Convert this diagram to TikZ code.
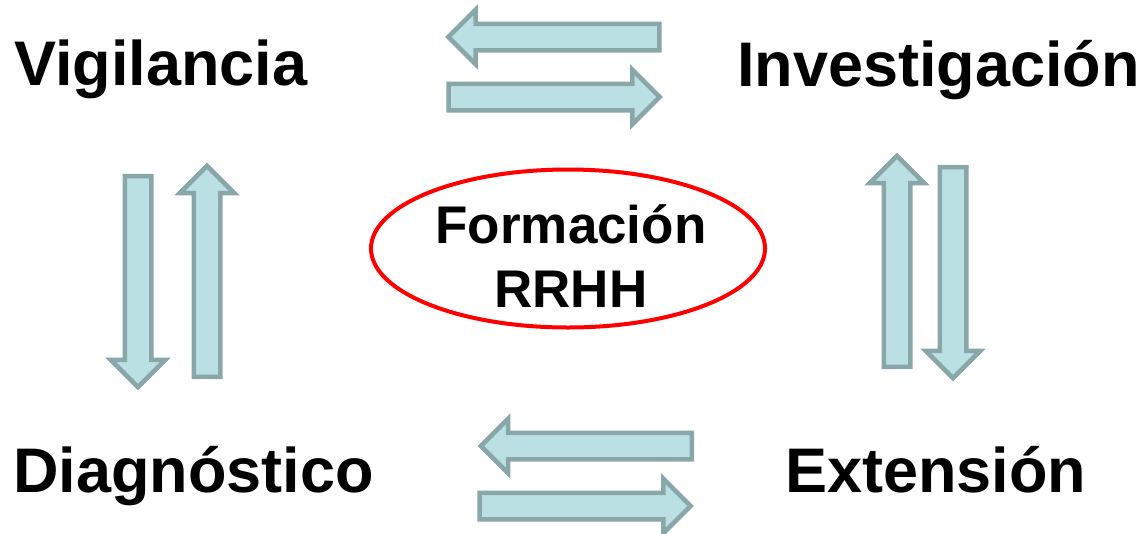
\documentclass[tikz,border=0pt]{standalone}
\usepackage{fontspec}
\setmainfont{Liberation Sans}
\usetikzlibrary{shapes.arrows,shapes.geometric}
\definecolor{arrfill}{RGB}{187,224,227}
\definecolor{arredge}{RGB}{137,166,168}
\tikzset{
  blockarrow/.style={single arrow, draw=arredge, fill=arrfill, line width=4.5pt,
    minimum height=211pt, single arrow head extend=14pt,
    inner xsep=0pt, inner ysep=11pt, outer sep=0pt, anchor=center},
  lbl/.style={font=\fontsize{63}{63}\selectfont\bfseries, inner sep=0pt, anchor=base west},
}
\begin{document}
\begin{tikzpicture}[x=1pt,y=-1pt]
\useasboundingbox (0,0) rectangle (1147,533);
\node[lbl] (vig) at (14,85) {Vigilancia};
\node[lbl] (inv) at (737,86) {Investigación};
\node[lbl] (dia) at (13,492) {Diagnóstico};
\node[lbl] (ext) at (785,492) {Extensión};
\node[ellipse, draw=red, line width=4pt, minimum width=394pt, minimum height=158pt, inner sep=0pt] (rrhhel) at (568,248.5) {};
\node[font=\fontsize{53}{64}\selectfont\bfseries, align=center, inner sep=0pt, anchor=base] (rrhh) at (571,307) {Formación\\RRHH};
\node[blockarrow, rotate=180] (a1) at (560.5,37) {};
\node[blockarrow] (a2) at (547.5,97) {};
\node[blockarrow, rotate=-90] (a3) at (138,275) {};
\node[blockarrow, rotate=90] (a4) at (207,278) {};
\node[blockarrow, rotate=90] (a5) at (897,268) {};
\node[blockarrow, rotate=-90] (a6) at (953,266) {};
\node[blockarrow, rotate=180] (a7) at (593,446) {};
\node[blockarrow] (a8) at (578.5,506) {};
\end{tikzpicture}
\end{document}
